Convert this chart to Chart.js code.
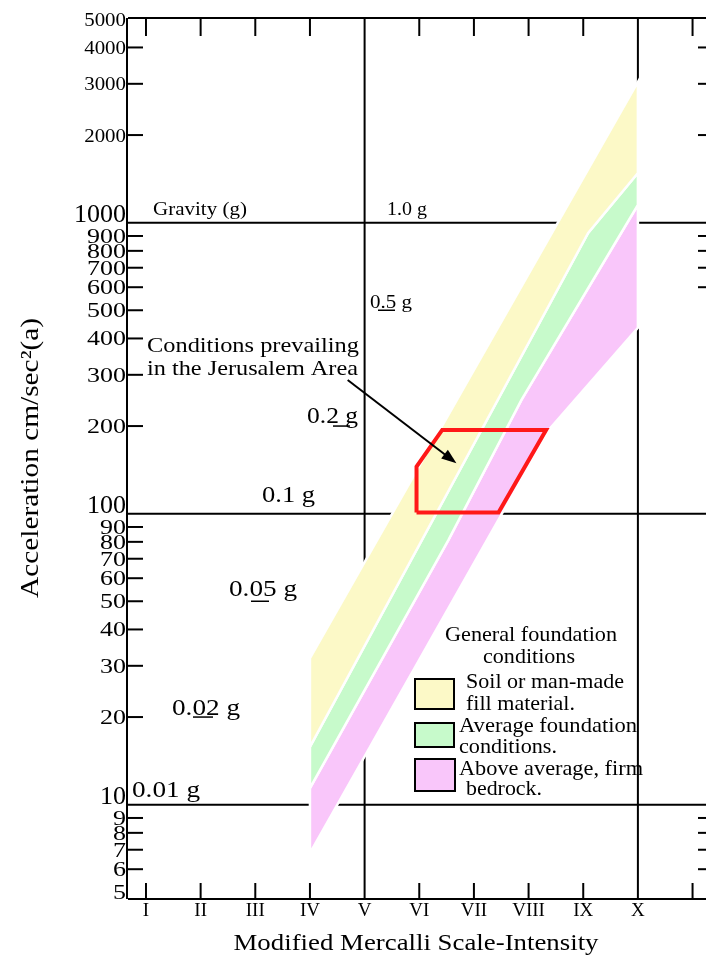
<!DOCTYPE html>
<html><head><meta charset="utf-8">
<script src="https://cdn.jsdelivr.net/npm/chart.js@4.4.1/dist/chart.umd.min.js"></script>
<style>html,body{margin:0;padding:0;background:#fff;}canvas{display:block;}</style>
</head><body>
<div style="width:706px;height:960px"><canvas id="c" width="706" height="960"></canvas></div>
<script>
// ---- data ----
const intensityLabels = ['I','II','III','IV','V','VI','VII','VIII','IX','X'];
const intensityValues = [1,2,3,4,5,6,7,8,9,10];
const extraIntensityTicks = [11];
const gridIntensities = [5,10];
const accelTicks = [5,6,7,8,9,10,20,30,40,50,60,70,80,90,100,200,300,400,500,600,700,800,900,1000,2000,3000,4000,5000];
const accelTickLabels = accelTicks.map(String);
const gridAccels = [10,100,1000];
const rightSideTicks = [6,7,8,9,600,700,800,900,2000,3000,4000];
// band boundaries (intensity, acceleration cm/s2)
const soilUpper = [{x:4,y:31.9},{x:10,y:3045}];
const averageUpper = [{x:4,y:15.8},{x:9.09,y:922},{x:10,y:1482}];
const bedrockUpper = [{x:4,y:11.4},{x:6.53,y:81},{x:7.87,y:246},{x:10,y:1150}];
const bedrockLower = [{x:4,y:6.82},{x:8.40,y:197},{x:10,y:435}];
// Jerusalem area outline
const jerusalemArea = [{x:5.95,y:101},{x:5.95,y:145},{x:6.42,y:194},{x:8.32,y:194},{x:7.45,y:101}];
const arrowPath = [{x:4.69,y:288},{x:6.68,y:149}];
// g-level marker values (cm/s2)
const gMarkerValues = [500,200,50,20];
const legendLabels = [['Soil or man-made','fill material.'],['Average foundation','conditions.'],['Above average, firm','bedrock.']];

const YELLOW='rgb(252,249,199)', GREEN='rgb(199,250,203)', PINK='rgb(249,198,250)';
const FONT='"Liberation Serif", "Times New Roman", serif';

function poly(upper, lower){
  const pts = upper.concat(lower.slice().reverse());
  pts.push(upper[0]);
  return pts;
}

function txt(ctx, s, x, y, size, o){
  o = o || {};
  ctx.save();
  ctx.font = size + 'px ' + FONT;
  const m = ctx.measureText(s).width;
  const sx = o.w ? o.w / m : (o.sx || 1);
  ctx.translate(x, y);
  if (o.rot) ctx.rotate(o.rot);
  ctx.scale(sx, 1);
  ctx.textAlign = o.align || 'left';
  ctx.textBaseline = 'alphabetic';
  ctx.fillStyle = '#000';
  ctx.fillText(s, 0, 0);
  ctx.restore();
}
function seg(ctx, x1, y1, x2, y2, w){
  ctx.beginPath(); ctx.lineWidth = w || 2; ctx.moveTo(x1,y1); ctx.lineTo(x2,y2); ctx.stroke();
}

const figurePlugin = {
  id: 'figure',
  beforeDatasetsDraw(chart){
    const ctx = chart.ctx, a = chart.chartArea, X = chart.scales.x, Y = chart.scales.y;
    ctx.save(); ctx.strokeStyle = '#000'; ctx.lineCap = 'butt';
    gridIntensities.forEach(v => { const p = X.getPixelForValue(v); seg(ctx, p, a.top, p, a.bottom, 2); });
    gridAccels.forEach(v => { const p = Y.getPixelForValue(v); seg(ctx, a.left, p, a.right, p, 2); });
    ctx.restore();
  },
  afterDatasetsDraw(chart){
    const ctx = chart.ctx, a = chart.chartArea, X = chart.scales.x, Y = chart.scales.y;
    const px = v => X.getPixelForValue(v), py = v => Y.getPixelForValue(v);
    ctx.save(); ctx.strokeStyle = '#000'; ctx.fillStyle = '#000'; ctx.lineCap = 'butt';
    // frame
    seg(ctx, a.left, a.top, a.right, a.top, 2);
    seg(ctx, a.left - 1, a.top, a.left - 1, a.bottom, 2);
    seg(ctx, a.left, a.bottom, a.right, a.bottom, 2);
    // x ticks
    intensityValues.concat(extraIntensityTicks).forEach(v => {
      if (gridIntensities.includes(v)) return;
      const p = px(v);
      seg(ctx, p, a.top, p, a.top + 18, 2);
      seg(ctx, p, a.bottom, p, a.bottom - 16, 2);
    });
    intensityLabels.forEach((l, i) => txt(ctx, l, px(intensityValues[i]), a.bottom + 17, 19, {align:'center'}));
    // y ticks
    accelTicks.forEach((v, i) => {
      const p = py(v);
      if (!gridAccels.includes(v) && v !== 5 && v !== 5000) seg(ctx, a.left, p, a.left + 15, p, 2);
      const lab = accelTickLabels[i];
      if (gridAccels.includes(v)) txt(ctx, lab, a.left - 2, p - 1, 26, {align:'right', sx:1.0});
      else if (v >= 2000) txt(ctx, lab, a.left - 2, p + 6.5, 19, {align:'right', sx:1.1});
      else txt(ctx, lab, a.left - 2, p + 6.8, 20, {align:'right', sx:1.3});
    });
    rightSideTicks.forEach(v => { const p = py(v); seg(ctx, a.right - 8, p, a.right, p, 2); });
    // g-level marks
    const gx = [[378,395],[333,350],[251,269],[193,213]];
    gMarkerValues.forEach((v, i) => seg(ctx, gx[i][0], py(v), gx[i][1], py(v), 1.5));
    // annotations
    txt(ctx, 'Gravity (g)', 153, 215, 19, {w:94});
    txt(ctx, '1.0 g', 387, 215, 19.5, {w:40});
    txt(ctx, '0.5 g', 370, 308, 19.5, {w:42});
    txt(ctx, 'Conditions prevailing', 147, 352, 22, {w:212});
    txt(ctx, 'in the Jerusalem Area', 147, 375, 22, {w:211});
    txt(ctx, '0.2 g', 307, 423, 24, {w:51});
    txt(ctx, '0.1 g', 262, 502, 24, {w:53});
    txt(ctx, '0.05 g', 229, 596, 24, {w:68});
    txt(ctx, '0.02 g', 172, 715, 24, {w:68});
    txt(ctx, '0.01 g', 132, 797, 24, {w:68});
    // arrow
    const x0 = px(arrowPath[0].x), y0 = py(arrowPath[0].y), x1 = px(arrowPath[1].x), y1 = py(arrowPath[1].y);
    const ang = Math.atan2(y1 - y0, x1 - x0), L = 15, H = 5.5;
    seg(ctx, x0, y0, x1 - Math.cos(ang) * 10, y1 - Math.sin(ang) * 10, 2);
    ctx.beginPath();
    ctx.moveTo(x1, y1);
    ctx.lineTo(x1 - L*Math.cos(ang) + H*Math.sin(ang), y1 - L*Math.sin(ang) - H*Math.cos(ang));
    ctx.lineTo(x1 - L*Math.cos(ang) - H*Math.sin(ang), y1 - L*Math.sin(ang) + H*Math.cos(ang));
    ctx.closePath(); ctx.fill();
    // legend
    txt(ctx, 'General foundation', 531, 641, 21, {w:172, align:'center'});
    txt(ctx, 'conditions', 529, 663, 21, {w:92, align:'center'});
    const boxes = [[415,679,39,30,YELLOW],[415,723,39,24,GREEN],[415,759,40,32,PINK]];
    boxes.forEach(b => { ctx.fillStyle = b[4]; ctx.fillRect(b[0],b[1],b[2],b[3]); ctx.lineWidth = 2; ctx.strokeStyle='#000'; ctx.strokeRect(b[0],b[1],b[2],b[3]); });
    ctx.fillStyle = '#000';
    const lt = [[466,688,158],[466,710,109],[459,732,178],[459,753,98],[459,775,184],[466,795,76]];
    legendLabels.flat().forEach((s, i) => txt(ctx, s, lt[i][0], lt[i][1], 21, {w:lt[i][2]}));
    // axis titles
    txt(ctx, 'Modified Mercalli Scale-Intensity', 416, 950, 23, {w:365, align:'center'});
    txt(ctx, 'Acceleration cm/sec\u00B2(a)', 38, 458, 25, {w:280, align:'center', rot:-Math.PI/2});
    ctx.restore();
  }
};

new Chart(document.getElementById('c'), {
  type: 'line',
  data: {
    datasets: [
      {data: jerusalemArea.concat([jerusalemArea[0]]), borderColor: 'rgb(255,24,24)', borderWidth: 4, fill: false, borderJoinStyle: 'miter', order: 0},
      {data: poly(soilUpper, averageUpper), backgroundColor: YELLOW, borderColor: '#fff', borderWidth: 2.5, fill: 'shape', order: 1},
      {data: poly(averageUpper, bedrockUpper), backgroundColor: GREEN, borderColor: '#fff', borderWidth: 2.5, fill: 'shape', order: 2},
      {data: poly(bedrockUpper, bedrockLower), backgroundColor: PINK, borderColor: '#fff', borderWidth: 2.5, fill: 'shape', order: 3}
    ]
  },
  options: {
    responsive: false, animation: false, devicePixelRatio: 1,
    layout: {padding: {left: 128, top: 18, right: 0, bottom: 61}},
    plugins: {legend: {display: false}, tooltip: {enabled: false}},
    elements: {point: {radius: 0, hoverRadius: 0}, line: {tension: 0}},
    events: [],
    scales: {
      x: {type: 'linear', min: 0.6712, max: 11.246, display: false},
      y: {type: 'logarithmic', min: 4.74, max: 5050, display: false}
    }
  },
  plugins: [figurePlugin]
});
</script>
</body></html>
